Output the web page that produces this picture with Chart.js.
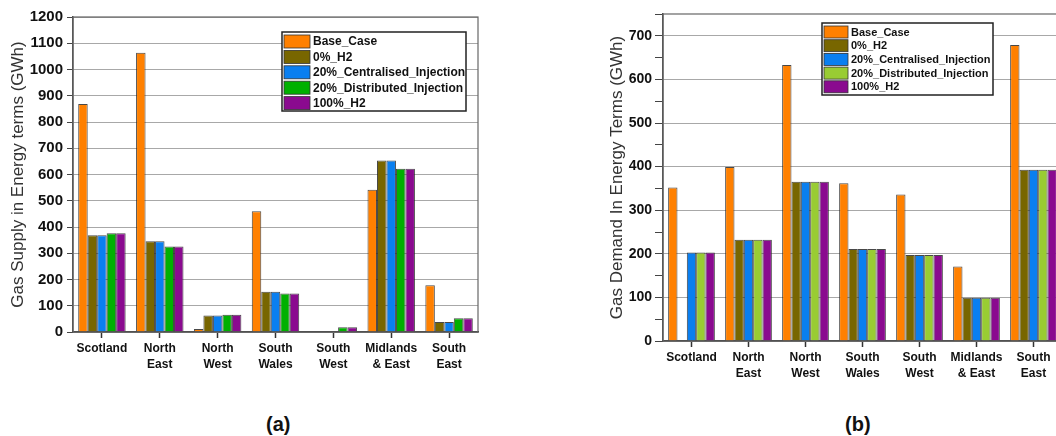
<!DOCTYPE html>
<html>
<head>
<meta charset="utf-8">
<script src="https://cdn.jsdelivr.net/npm/chart.js@4"></script>
<style>
  html, body { margin: 0; padding: 0; width: 1056px; height: 436px; overflow: hidden; background: #fff; }
  .box { position: absolute; top: 0; }
  #boxA { left: 0; width: 490px; height: 385px; }
  #boxB { left: 560px; width: 515px; height: 395px; }
  .cap { position: absolute; top: 413px; font: bold 20px "Liberation Sans", Arial, sans-serif; color: #111; }
</style>
</head>
<body>
<div class="box" id="boxA"><canvas id="chartA"></canvas></div>
<div class="box" id="boxB"><canvas id="chartB"></canvas></div>
<div class="cap" style="left:266px">(a)</div>
<div class="cap" style="left:845px">(b)</div>
<script>
const regions = [
  "Scotland",
  ["North", "East"],
  ["North", "West"],
  ["South", "Wales"],
  ["South", "West"],
  ["Midlands", "& East"],
  ["South", "East"],
];
const seriesNames = [
  "Base_Case",
  "0%_H2",
  "20%_Centralised_Injection",
  "20%_Distributed_Injection",
  "100%_H2",
];

// (a) gas supply, GWh
const supplyBase = [869, 1064, 11, 460, 0, 542, 178];
const supplyH2_0 = [369, 346, 63, 153, 0, 653, 38];
const supplyCentral = [369, 346, 63, 153, 0, 653, 38];
const supplyDistrib = [376, 326, 66, 147, 18, 622, 52];
const supplyH2_100 = [376, 326, 66, 147, 18, 622, 52];

// (b) gas demand, GWh
const demandBase = [352, 399, 633, 362, 336, 171, 679];
const demandH2_0 = [0, 232, 365, 211, 197, 99, 393];
const demandCentral = [203, 232, 365, 211, 197, 99, 393];
const demandDistrib = [203, 232, 365, 211, 197, 99, 393];
const demandH2_100 = [203, 232, 365, 211, 197, 99, 393];

const colorsA = ["#ff8000", "#786600", "#0a7ff0", "#00b000", "#8a0a8f"];
const colorsB = ["#ff8000", "#786600", "#0a7ff0", "#99cc33", "#8a0a8f"];

Chart.defaults.font.family = '"Liberation Sans", Arial, sans-serif';
Chart.defaults.color = "#111";

// frame round the plot + legend drawn inside the plot
const framePlugin = {
  id: "frameLegend",
  afterDraw(chart, args, opts) {
    const c = chart.ctx;
    const a = chart.chartArea;
    c.save();
    c.strokeStyle = "#666";
    c.lineWidth = 1.2;
    c.strokeRect(a.left, a.top, a.right - a.left, a.bottom - a.top);

    // legend box
    c.fillStyle = "#fff";
    c.fillRect(opts.x, opts.y, opts.w, opts.h);
    c.strokeStyle = "#222";
    c.lineWidth = 1.5;
    c.strokeRect(opts.x, opts.y, opts.w, opts.h);
    c.font = "bold " + opts.size + "px \"Liberation Sans\", Arial, sans-serif";
    c.textBaseline = "middle";
    chart.data.datasets.forEach((ds, i) => {
      const cy = opts.y + opts.first + i * opts.row;
      c.fillStyle = ds.backgroundColor;
      c.fillRect(opts.x + 2, cy - opts.swH / 2, opts.swW, opts.swH);
      c.strokeStyle = "#333";
      c.lineWidth = 0.8;
      c.strokeRect(opts.x + 2, cy - opts.swH / 2, opts.swW, opts.swH);
      c.fillStyle = "#111";
      c.fillText(ds.label, opts.x + opts.swW + 5, cy + 0.5);
    });
    c.restore();
  },
};

function makeDatasets(series, colors) {
  return series.map((vals, i) => ({
    label: seriesNames[i],
    data: vals,
    backgroundColor: colors[i],
    borderColor: "rgba(40,40,40,0.85)",
    borderWidth: 1,
    categoryPercentage: 0.82,
    barPercentage: 1.0,
  }));
}

function makeChart(id, cfg) {
  new Chart(document.getElementById(id), {
    type: "bar",
    data: {
      labels: regions,
      datasets: makeDatasets(cfg.series, cfg.colors),
    },
    options: {
      responsive: true,
      maintainAspectRatio: false,
      animation: false,
      layout: { padding: { top: cfg.top, right: cfg.right, left: 0, bottom: 0 } },
      plugins: {
        legend: { display: false },
        tooltip: { enabled: false },
        frameLegend: cfg.legend,
      },
      scales: {
        x: {
          afterFit: (s) => { s.height = cfg.xHeight; },
          grid: { drawOnChartArea: false, offset: false, tickLength: 6, tickColor: "#333", tickWidth: 1.5 },
          border: { color: "#333", width: 1.5 },
          ticks: {
            autoSkip: false,
            maxRotation: 0,
            padding: 3,
            font: { size: 12, weight: "bold", lineHeight: 1.3 },
          },
        },
        y: {
          min: 0,
          max: cfg.max,
          afterFit: (s) => { s.width = cfg.yWidth; },
          grid: {
            color: (ctx) => (ctx.tick && ctx.tick.value % 100 === 0 ? "#a8a8a8" : "rgba(0,0,0,0)"),
            tickColor: "#444",
            tickLength: cfg.tickLen,
            lineWidth: 1,
          },
          border: { color: "#444", width: 1.5 },
          ticks: {
            stepSize: 50,
            padding: cfg.tickPad,
            font: { size: cfg.tickSize, weight: "bold" },
            callback: (v) => (v % 100 === 0 ? v : ""),
          },
          title: {
            display: true,
            text: cfg.title,
            font: { size: 17 },
            color: "#333",
            padding: { top: cfg.titlePad, bottom: 0 },
          },
        },
      },
    },
    plugins: [framePlugin],
  });
}

makeChart("chartA", {
  series: [supplyBase, supplyH2_0, supplyCentral, supplyDistrib, supplyH2_100],
  colors: colorsA,
  max: 1200,
  top: 17,
  right: 12,
  yWidth: 73,
  xHeight: 53,
  tickLen: 6,
  tickPad: 4,
  tickSize: 15,
  titlePad: 8,
  title: "Gas Supply in Energy terms (GWh)",
  legend: { x: 282, y: 32, w: 184, h: 79, first: 9.5, row: 15.4, swW: 26, swH: 13, size: 12 },
});

makeChart("chartB", {
  series: [demandBase, demandH2_0, demandCentral, demandDistrib, demandH2_100],
  colors: colorsB,
  max: 750,
  top: 14,
  right: 13,
  yWidth: 103,
  xHeight: 54,
  tickLen: 8,
  tickPad: 3,
  tickSize: 14,
  titlePad: 47,
  title: "Gas Demand In Energy Terms (GWh)",
  legend: { x: 262, y: 23, w: 171, h: 72, first: 9, row: 13.7, swW: 24, swH: 12, size: 11 },
});
</script>
</body>
</html>
